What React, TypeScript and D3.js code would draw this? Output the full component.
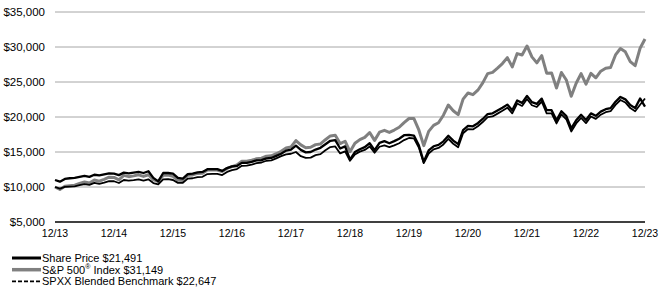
import React from "react";
import * as d3 from "d3";

const tickLabels = ["12/13","12/14","12/15","12/16","12/17","12/18","12/19","12/20","12/21","12/22","12/23"];
const yTicks = [5000, 10000, 15000, 20000, 25000, 30000, 35000];

// Monthly values, Dec 2013 .. Dec 2023 (121 points)
const sp500 = [
  10000, 9654, 10095, 10180, 10255, 10496, 10713, 10565, 10988, 10834, 11098, 11397, 11369,
  11028, 11662, 11478, 11588, 11737, 11510, 11752, 11043, 10770, 11680, 11715, 11530,
  10958, 10944, 11686, 11731, 11942, 11973, 12415, 12432, 12435, 12209, 12661, 12912,
  13157, 13679, 13696, 13837, 14032, 14119, 14410, 14455, 14753, 15097, 15561, 15734,
  16636, 16022, 15615, 15674, 16052, 16152, 16753, 17299, 17398, 16206, 16537, 15044,
  16249, 16771, 17096, 17788, 16659, 17833, 18090, 17804, 18137, 18531, 19203, 19783,
  19775, 18149, 15907, 17946, 18800, 19174, 20255, 21711, 20886, 20330, 22556, 23422,
  23186, 23826, 24870, 26198, 26381, 26996, 27639, 28479, 27155, 29058, 28857, 30150,
  28591, 27736, 28765, 26256, 26303, 24133, 26358, 25282, 22954, 24814, 26201, 24692,
  26243, 25603, 26542, 26956, 27072, 28862, 29788, 29314, 27916, 27330, 29825, 31149
];

const sharePrice = [
  11000, 10760, 11150, 11250, 11300, 11450, 11600, 11450, 11750, 11650, 11800, 11950, 11900,
  11700, 12050, 11950, 12050, 12150, 12000, 12250, 11300, 10800, 12000, 12000, 11900,
  11300, 11200, 11850, 11900, 12100, 12150, 12550, 12550, 12550, 12300, 12700, 12950,
  13000, 13450, 13450, 13600, 13800, 13850, 14100, 14150, 14450, 14750, 15200, 15350,
  15900, 15300, 14950, 15000, 15350, 15600, 16100, 16600, 16700, 15500, 15800, 13900,
  15000, 15400, 15700, 16250, 15250, 16300, 16550, 16250, 16550, 16900, 17400, 17450,
  17350, 15950, 13600, 15220, 15820, 16020, 16520, 17320, 16620, 16120, 18120, 18720,
  18670, 19120, 19720, 20420, 20520, 20920, 21320, 21770, 20970, 22370, 22020, 23020,
  22120, 21870, 22620, 20970, 20970, 19520, 20820, 20120, 18370, 19520, 20320, 19570,
  20520, 20170, 20770, 21120, 21270, 22170, 22870, 22520, 21720, 21270, 22650, 21491
];

const benchmark = [
  10000, 9760, 10020, 10060, 10100, 10270, 10420, 10300, 10580, 10460, 10640, 10850, 10820,
  10570, 11000, 10900, 10980, 11080, 10900, 11100, 10560, 10380, 11090, 11120, 11000,
  10590, 10600, 11200, 11250, 11420, 11460, 11850, 11870, 11880, 11700, 12150, 12400,
  12570, 13030, 13050, 13200, 13400, 13500, 13750, 13800, 14100, 14400, 14650, 14750,
  15000, 14400, 14150, 14200, 14550, 14700, 15250, 15700, 15800, 14800, 15100, 13750,
  14650, 15050, 15300, 15800, 14900, 15750, 15950, 15700, 15950, 16250, 16700, 17000,
  16950, 15650, 13400, 14780, 15380, 15580, 16080, 16880, 16180, 15680, 17680, 18280,
  18230, 18680, 19280, 19980, 20080, 20480, 20880, 21330, 20530, 21930, 21580, 22580,
  21680, 21430, 22180, 20530, 20530, 19080, 20380, 19680, 17930, 19080, 19880, 19130,
  20080, 19730, 20330, 20680, 20830, 21730, 22430, 22080, 21280, 20830, 21750, 22647
];

const legendItems = [
  { label: "Share Price $21,491", type: "share" },
  { label: "S&P 500", sup: "®", rest: " Index $31,149", type: "sp" },
  { label: "SPXX Blended Benchmark $22,647", type: "bench" }
];

const W = 660, H = 294;
const FONT = "Arial, 'Liberation Sans', Helvetica, sans-serif";

export default function App() {
  const x = d3.scaleLinear().domain([0, 120]).range([55, 645]);
  const y = d3.scaleLinear().domain([5000, 35000]).range([222, 12]);
  const line = d3.line<number>().x((_, i) => x(i)).y((d) => y(d));
  const fmt = (v: number) => "$" + d3.format(",")(v);

  return (
    <div style={{ position: "absolute", left: 0, top: 0 }}>
      <svg width={W} height={H} style={{ display: "block", background: "#fff" }} fontFamily={FONT}>
        {yTicks.map((t) => (
          <g key={t}>
            {t !== 5000 && (
              <line x1={55} x2={645} y1={y(t)} y2={y(t)} stroke="#a6a6a6" strokeWidth={1} />
            )}
            <text x={45} y={y(t)} dy="0.36em" textAnchor="end" fontSize={11.5} fill="#000">
              {fmt(t)}
            </text>
          </g>
        ))}
        {tickLabels.map((lab, i) => (
          <text key={lab} x={x(i * 12)} y={237} textAnchor="middle" fontSize={10.5} fill="#000">
            {lab}
          </text>
        ))}
        <path d={line(sp500) || ""} fill="none" stroke="#808080" strokeWidth={3} strokeLinejoin="round" />
        <path d={line(benchmark) || ""} fill="none" stroke="#000" strokeWidth={1.8} strokeLinejoin="round" />
        <path d={line(sharePrice) || ""} fill="none" stroke="#000" strokeWidth={2.3} strokeLinejoin="round" />
        <line x1={55} x2={645} y1={y(5000)} y2={y(5000)} stroke="#000" strokeWidth={1.5} />

        {legendItems.map((it, i) => {
          const ly = 258 + i * 11.7;
          return (
            <g key={it.type}>
              {it.type === "share" && (
                <line x1={12} x2={41} y1={ly} y2={ly} stroke="#000" strokeWidth={3} />
              )}
              {it.type === "sp" && (
                <line x1={12} x2={41} y1={ly} y2={ly} stroke="#808080" strokeWidth={3.5} />
              )}
              {it.type === "bench" && (
                <line x1={12} x2={41} y1={ly} y2={ly} stroke="#000" strokeWidth={1.6} strokeDasharray="4,2" />
              )}
              <text x={42} y={ly} dy="0.36em" fontSize={11} fill="#000">
                {it.label}
                {it.sup && (
                  <tspan fontSize={7} dy="-0.6em">{it.sup}</tspan>
                )}
                {it.rest && <tspan dy="0.4em">{it.rest}</tspan>}
              </text>
            </g>
          );
        })}
      </svg>
    </div>
  );
}
